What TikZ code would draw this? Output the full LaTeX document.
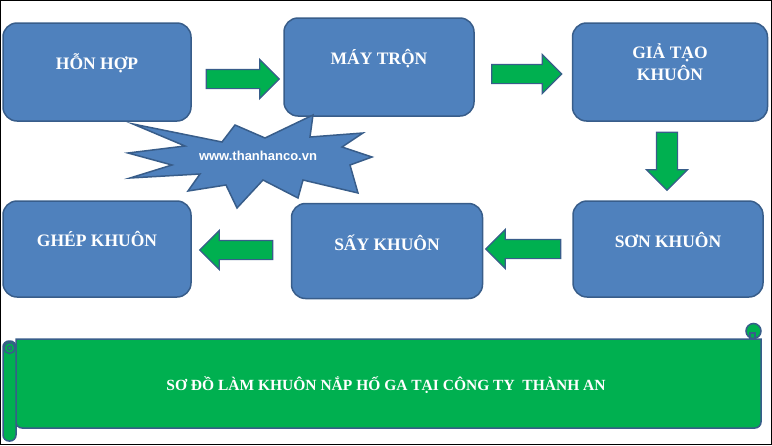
\documentclass[tikz,border=0pt]{standalone}
\usepackage{fontspec}
\setmainfont{Liberation Serif}
\newfontfamily\webfont{Liberation Sans}
\usepackage{xcolor}
\usetikzlibrary{shapes.arrows,calc}

\definecolor{boxblue}{HTML}{4F81BD}
\definecolor{edgeblue}{HTML}{385D8A}
\definecolor{stepgreen}{HTML}{00B050}

\begin{document}
\begin{tikzpicture}[x=1pt,y=-1pt]

\tikzstyle{stagebox} = [rectangle, rounded corners=14pt, fill=boxblue, draw=edgeblue, line width=1.5pt, inner sep=0pt]
\tikzstyle{stagetext} = [text=white, font=\bfseries\fontsize{17.5}{22}\selectfont, align=center, inner sep=0pt]
\tikzstyle{flowarrow} = [single arrow, fill=stepgreen, draw=edgeblue, line width=1.2pt, inner sep=9pt, single arrow head extend=10pt, minimum width=38pt]
\tikzstyle{scroll} = [fill=stepgreen, draw=edgeblue, line width=1.5pt]

\useasboundingbox (0,0) rectangle (772,445);
\draw[black, line width=1pt] (0.5,0.5) rectangle (771.5,444.5);

% the six stages
\node (hon) [stagebox, minimum width=188pt, minimum height=98pt] at (97,72) {};
\node (may) [stagebox, minimum width=190pt, minimum height=98pt] at (379,67) {};
\node (gia) [stagebox, minimum width=195pt, minimum height=98pt] at (670,72) {};
\node (son) [stagebox, minimum width=190pt, minimum height=96pt] at (668,249) {};
\node (say) [stagebox, minimum width=191pt, minimum height=95pt] at (387,251) {};
\node (ghep) [stagebox, minimum width=188pt, minimum height=96pt] at (97,249) {};

\node (honT) [stagetext, text height=12pt, text depth=0pt] at ($(hon.center)+(0,-9)$) {HỖN HỢP};
\node (mayT) [stagetext, text height=12pt, text depth=0pt] at ($(may.center)+(0,-9)$) {MÁY TRỘN};
\node (giaT) [stagetext] at ($(gia.center)+(0,-10)$) {GIẢ TẠO\\KHUÔN};
\node (sonT) [stagetext, text height=12pt, text depth=0pt] at ($(son.center)+(0,-8)$) {SƠN KHUÔN};
\node (sayT) [stagetext, text height=12pt, text depth=0pt] at ($(say.center)+(0,-7)$) {SẤY KHUÔN};
\node (ghepT) [stagetext, text height=12pt, text depth=0pt] at ($(ghep.center)+(0,-9)$) {GHÉP KHUÔN};

% green block arrows
\node (a1) [flowarrow, minimum height=73pt] at (238,79) {};
\node (a2) [flowarrow, minimum height=70pt] at (522,74) {};
\node (a3) [flowarrow, minimum height=58pt, inner sep=10pt, minimum width=40pt, shape border rotate=270] at (667,156) {};
\node (a4) [flowarrow, minimum height=75pt, shape border rotate=180] at (528,249) {};
\node (a5) [flowarrow, minimum height=73pt, shape border rotate=180] at (241,250) {};

% starburst
\filldraw[fill=boxblue, draw=edgeblue, line width=1.5pt, line join=miter]
  (133,124) -- (222,142) -- (235,125) -- (265,138) -- (313,115) -- (310,137)
  -- (363,133) -- (342,147) -- (372,157) -- (350,165) -- (358,193) -- (303,180)
  -- (298,198) -- (263,180) -- (237,208) -- (226,185) -- (188,191) -- (200,174)
  -- (130,178) -- (172,165) -- (128,153) -- (185,146) -- cycle;
\node (web) [text=white, font=\webfont\bfseries\fontsize{13}{15}\selectfont] at (258,156) {www.thanhanco.vn};

% scroll banner
\filldraw[scroll] (16,339) -- (761,339) [rounded corners=6pt] -- (761,428) -- (16,428) [sharp corners] -- cycle;
\filldraw[scroll] (753.5,331) circle[radius=7.5pt];
\draw[edgeblue, line width=1.2pt] (750,339) -- (750,333) -- (755,333) -- (755,338);
\filldraw[scroll, rounded corners=6pt] (3,341) rectangle (16,441);
\filldraw[scroll] (9.5,348) circle[radius=5.5pt];
\draw[edgeblue, line width=1.2pt] (9.5,348) circle[radius=2pt];
\node (title) [text=white, font=\bfseries\fontsize{15.5}{18}\selectfont] at (386,385) {SƠ ĐỒ LÀM KHUÔN NẮP HỐ GA TẠI CÔNG TY~ THÀNH AN};

\end{tikzpicture}
\end{document}
